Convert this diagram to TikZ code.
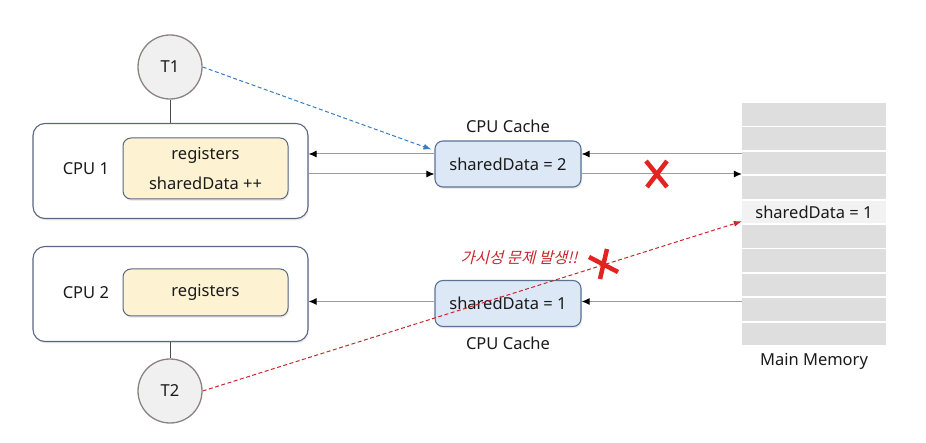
\documentclass[tikz,border=0pt]{standalone}
\usepackage{fontspec}
\setmainfont{Noto Sans}
\newfontfamily\krfont[FakeSlant=0.25]{Noto Sans CJK KR}
\usetikzlibrary{arrows.meta,positioning,shadows}
\definecolor{boxline}{HTML}{5A6780}
\definecolor{regfill}{HTML}{FDF3D3}
\definecolor{cachefill}{HTML}{DDE8F6}
\definecolor{cacheline}{HTML}{5D7194}
\definecolor{thfill}{HTML}{F0F0F0}
\definecolor{thline}{HTML}{8C8282}
\definecolor{memfill}{HTML}{DEDEDE}
\definecolor{memhit}{HTML}{F2F2F2}
\definecolor{wire}{HTML}{9C9C9C}
\definecolor{txt}{HTML}{1A1A1A}
\definecolor{warnred}{HTML}{C8282D}
\definecolor{xred}{HTML}{E3231F}
\definecolor{tblue}{HTML}{3A7DBE}
\tikzset{%
	softshadow/.style = {drop shadow={opacity=0.15, shadow xshift=1pt, shadow yshift=-2pt}},
	cpu/.style      = {draw=boxline, line width=1.1pt, rounded corners=12pt, fill=white, minimum width=275pt, minimum height=95pt, softshadow}, % CPU
	reg/.style      = {draw=boxline, line width=1pt, rounded corners=8pt, fill=regfill, minimum width=165pt, align=center, softshadow}, % registers
	cache/.style    = {draw=cacheline, line width=1.1pt, rounded corners=8pt, fill=cachefill, minimum width=146pt, minimum height=46pt, softshadow}, % CPU Cache
	thread/.style   = {draw=thline, fill=thfill, circle, line width=1.3pt, minimum size=64pt}, % Thread
	memrow/.style   = {fill=memfill, minimum width=144pt, minimum height=22.5pt, inner sep=0pt}, % Memory row
	wirearrow/.style = {draw=wire, line width=1pt, -{Latex[length=8pt,width=7pt,black]}},
	link/.style     = {draw=black!70, line width=1pt},
	cross/.style    = {draw=xred, line width=4.5pt},
}

\begin{document}
\begin{tikzpicture}[x=1pt, y=-1pt, font=\fontsize{16.5}{19}\selectfont, text=txt]
	\useasboundingbox (0,0) rectangle (926,443);
	% CPU 1
	\node[cpu] (cpu1) at (170.5,171) {};
	\node[reg, minimum height=61pt, font=\fontsize{16.5}{30}\selectfont] (reg1) at (205.5,168.5) {registers\\sharedData ++};
	\node[left=10pt of reg1] (c1) {CPU 1};
	\node[thread] (T1) at (170,67) {T1};
	\draw[link] (T1) -- (T1 |- cpu1.north);
	% CPU 2
	\node[cpu] (cpu2) at (170.5,294) {};
	\node[reg, minimum height=47pt] (reg2) at (205.5,292.5) {registers};
	\node[left=10pt of reg2] (c2) {CPU 2};
	\node[thread] (T2) at (170,391) {T2};
	\draw[link] (T2) -- (T2 |- cpu2.south);
	% caches
	\node[cache] (cache1) at (508,164) {sharedData = 2};
	\node[above=4pt of cache1] (cl1) {CPU Cache};
	\node[cache] (cache2) at (508,303.5) {sharedData = 1};
	\node[below=6pt of cache2] (cl2) {CPU Cache};
	% main memory
	\foreach \i in {0,1,2,3,5,6,7,8,9}
		\node[memrow] (mem\i) at (814,{114.3+24.4*\i}) {};
	\node[memrow, fill=memhit] (mem4) at (814,{114.3+24.4*4}) {sharedData = 1};
	\node[below=4pt of mem9] (ml) {Main Memory};
	% bus lines
	\draw[wirearrow] ([yshift=10pt]cache1.east -| mem0.west) -- ([yshift=10pt]cache1.east);
	\draw[wirearrow] ([yshift=10pt]cache1.west) -- ([yshift=10pt]cache1.west -| cpu1.east);
	\draw[wirearrow] ([yshift=-10pt]cache1.west -| cpu1.east) -- ([yshift=-10pt]cache1.west);
	\draw[wirearrow] ([yshift=-10pt]cache1.east) -- ([yshift=-10pt]cache1.east -| mem0.west);
	\draw[wirearrow] ([yshift=2pt]cache2.east -| mem0.west) -- ([yshift=2pt]cache2.east);
	\draw[wirearrow] ([yshift=2pt]cache2.west) -- ([yshift=2pt]cache2.west -| cpu2.east);
	% threads
	\draw[tblue, line width=1pt, dash pattern=on 4pt off 2.5pt, -{Latex[length=8pt,width=6pt]}] (T1.east) -- ([xshift=-3pt,yshift=-9pt]cache1.north west);
	\draw[warnred, line width=1pt, dash pattern=on 4pt off 2.5pt, -{Latex[length=8pt,width=6pt]}] (T2.east) -- ([yshift=2pt]mem4.south west);
	\node[text=warnred, font=\krfont\fontsize{15.5}{18}\selectfont] (warn) at (519,258) {가시성 문제 발생!!};
	% blocked
	\draw[cross] (646,161) -- (667,187) (667,161) -- (647,187);
	\draw[cross] (589,257) -- (618,272) (607,249) -- (600,279);
\end{tikzpicture}
\end{document}
